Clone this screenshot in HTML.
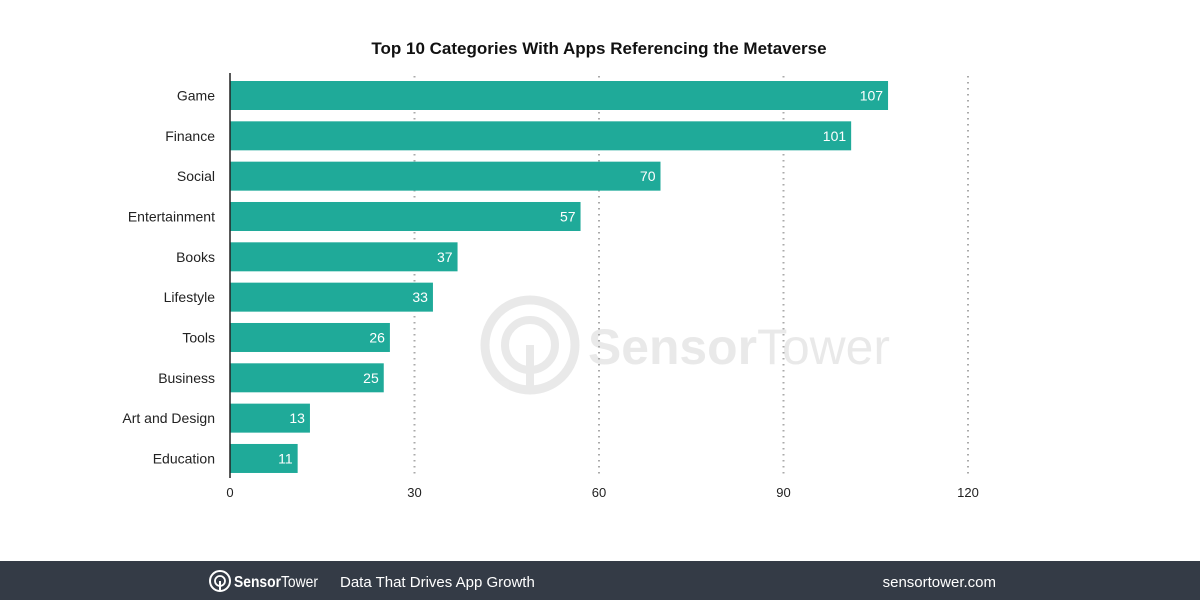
<!DOCTYPE html>
<html><head><meta charset="utf-8"><style>
body{margin:0;width:1200px;height:600px;background:#fff;font-family:"Liberation Sans",sans-serif;overflow:hidden;position:relative}
</style></head><body>
<svg id="chart" width="1200" height="600" style="position:absolute;left:0;top:0">
<text x="599" y="54" text-anchor="middle" font-size="17" font-weight="bold" fill="#111">Top 10 Categories With Apps Referencing the Metaverse</text>
<g opacity="0.18">
<circle cx="530" cy="345" r="45" fill="none" stroke="#888" stroke-width="9"/>
<circle cx="530" cy="345" r="25" fill="none" stroke="#888" stroke-width="8"/>
<rect x="526" y="345" width="8" height="45" fill="#888"/>
<text x="588" y="364" font-size="50" fill="#888" font-weight="bold" textLength="302" lengthAdjust="spacingAndGlyphs">Sensor<tspan font-weight="normal">Tower</tspan></text>
</g>
<g id="grid"></g><g id="bars"></g>
<line x1="230" y1="73" x2="230" y2="478" stroke="#222" stroke-width="1.5"/>
<rect x="0" y="561" width="1200" height="39" fill="#343b46"/>
<g>
<circle cx="220" cy="581" r="10" fill="none" stroke="#fff" stroke-width="2"/>
<circle cx="220" cy="581" r="5" fill="none" stroke="#fff" stroke-width="1.8"/>
<rect x="219" y="581" width="2" height="10" fill="#fff"/>
<text x="234" y="587" font-size="16" fill="#fff" font-weight="bold" textLength="84" lengthAdjust="spacingAndGlyphs">Sensor<tspan font-weight="normal">Tower</tspan></text>
</g>
<text x="340" y="587" font-size="15" fill="#fff">Data That Drives App Growth</text>
<text x="996" y="587" font-size="15" fill="#fff" text-anchor="end">sensortower.com</text>
</svg>
<script>
const categories=["Game","Finance","Social","Entertainment","Books","Lifestyle","Tools","Business","Art and Design","Education"];
const values=[107,101,70,57,37,33,26,25,13,11];
const ticks=[0,30,60,90,120];
const NS="http://www.w3.org/2000/svg";
const x=v=>230+v*(738/120);
const yc=i=>95.5+i*40.33;
function mk(t,a,p){const e=document.createElementNS(NS,t);for(const k in a)e.setAttribute(k,a[k]);p.appendChild(e);return e;}
const g=document.getElementById('grid'),b=document.getElementById('bars');
ticks.forEach(t=>{
 if(t>0){const l=mk('line',{x1:x(t),x2:x(t),y1:76,y2:478,stroke:'#aaa','stroke-width':2,'stroke-dasharray':'1.5 4.5'},g);
 
 }
 const tx=mk('text',{x:x(t),y:497,'text-anchor':'middle','font-size':13,fill:'#222'},g);tx.textContent=t;
 
 
});
categories.forEach((c,i)=>{
 const r=mk('rect',{x:230,y:yc(i)-14.5,width:x(values[i])-230,height:29,fill:'#1faa99'},b);
 
 
 const v=mk('text',{x:x(values[i])-5,y:yc(i)+5,'text-anchor':'end','font-size':14,fill:'#fff'},b);v.textContent=values[i];
 
 
 const l=mk('text',{x:215,y:yc(i)+5,'text-anchor':'end','font-size':14,fill:'#222'},b);l.textContent=c;
 
 
});
</script>
</body></html>
